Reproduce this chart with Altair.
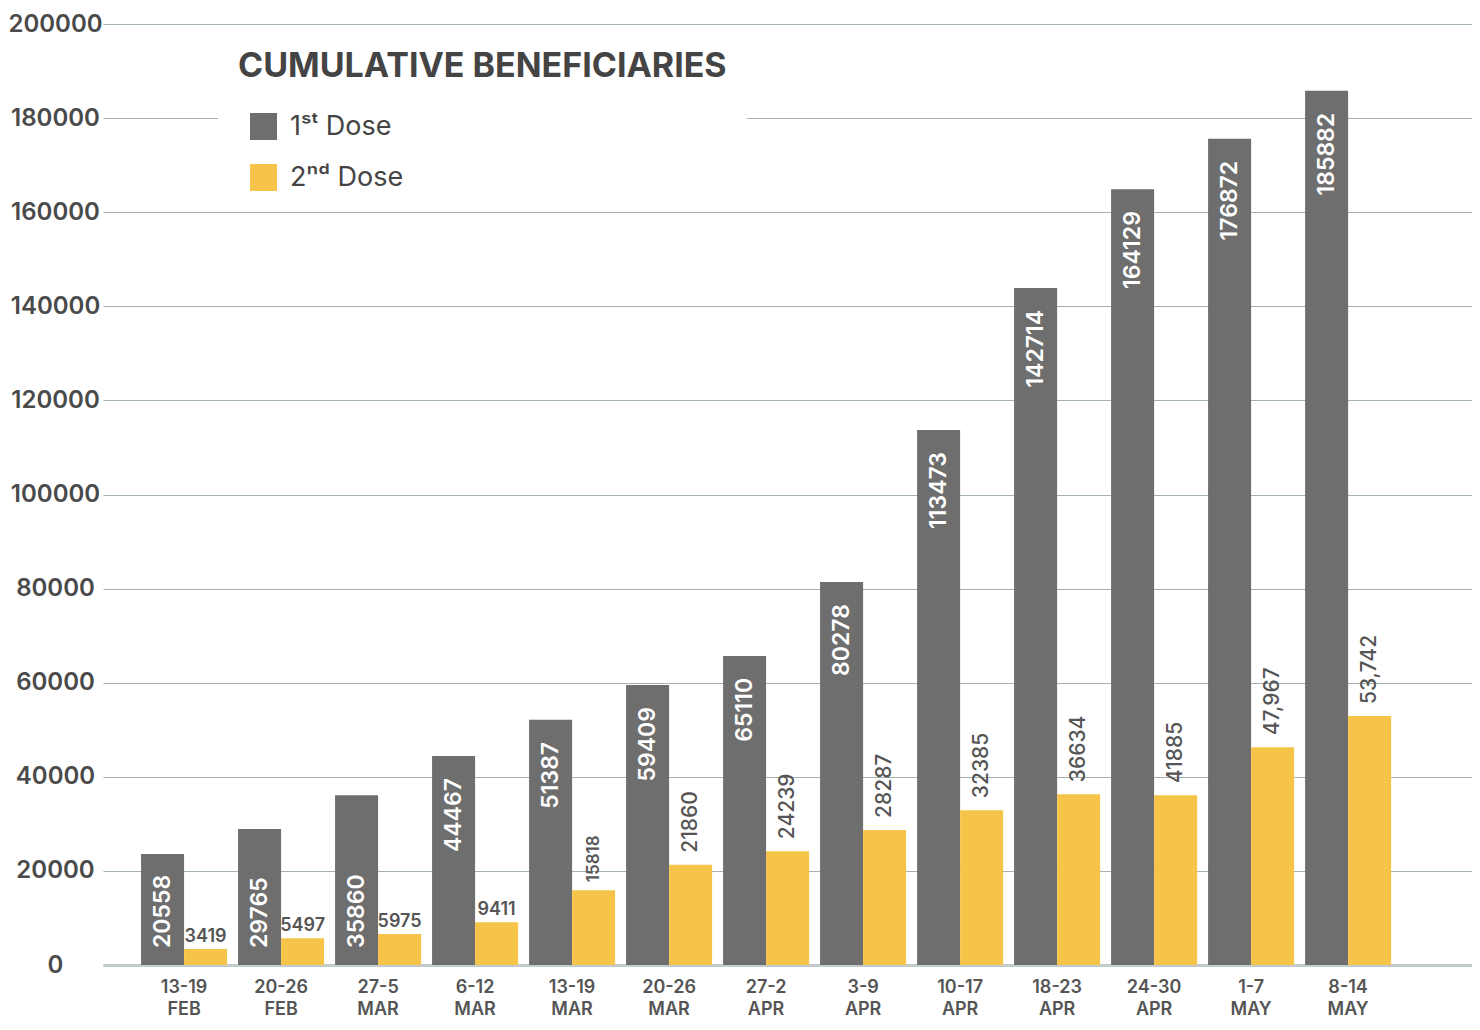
import altair as alt
import pandas as pd

weeks = ["13-19|FEB", "20-26|FEB", "27-5|MAR", "6-12|MAR", "13-19|MAR", "20-26|MAR",
         "27-2|APR", "3-9|APR", "10-17|APR", "18-23|APR", "24-30|APR", "1-7|MAY", "8-14|MAY"]

# bar heights as drawn
dose1_bar = [23600, 28900, 36100, 44400, 52100, 59500, 65700, 81400, 113700, 143900, 164900, 175600, 185800]
dose2_bar = [3400, 5700, 6600, 9100, 15900, 21300, 24200, 28700, 32900, 36300, 36100, 46300, 52900]

# printed value labels
dose1_label = ["20558", "29765", "35860", "44467", "51387", "59409", "65110", "80278",
               "113473", "142714", "164129", "176872", "185882"]
dose2_label = ["3419", "5497", "5975", "9411", "15818", "21860", "24239", "28287",
               "32385", "36634", "41885", "47,967", "53,742"]

dose_names = ["1ˢᵗ Dose", "2ⁿᵈ Dose"]
dose_colors = ["#6e6e6e", "#f6c449"]
y_ticks = list(range(0, 200001, 20000))

rows = []
for i, w in enumerate(weeks):
    rows.append(dict(week=w, dose=dose_names[0], value=dose1_bar[i], label=dose1_label[i],
                     idx=i, base=0))
    rows.append(dict(week=w, dose=dose_names[1], value=dose2_bar[i], label=dose2_label[i],
                     idx=i, base=0))
df = pd.DataFrame(rows)

FONT = "Inter"

x_enc = alt.X("week:N", sort=weeks,
              scale=alt.Scale(paddingInner=0.113, paddingOuter=0.613, align=0.32),
              axis=alt.Axis(title=None, labelExpr="split(datum.label, '|')", labelFont=FONT,
                            labelFontSize=18, labelFontWeight=600, labelColor="#555555",
                            labelLineHeight=22, labelPadding=13, ticks=False, domain=True,
                            domainColor="#c3cccc", domainWidth=3, labelAngle=0, grid=False))
xo_enc = alt.XOffset("dose:N", sort=dose_names,
                     scale=alt.Scale(domain=dose_names, paddingInner=0, paddingOuter=0))
y_scale = alt.Scale(domain=[0, 200000], nice=False)
y_axis = alt.Axis(values=y_ticks, title=None, format="d", labelFont=FONT,
                  labelFontSize=24, labelFontWeight=600, labelColor="#4a4a4a",
                  labelAlign="center", labelPadding=48, labelBaseline="middle",
                  ticks=False, domain=False, gridColor="#a3b1b1", gridWidth=1)
y_enc = alt.Y("value:Q", scale=y_scale, axis=y_axis)

base = alt.Chart(df)

bars = base.mark_bar().encode(
    x=x_enc, xOffset=xo_enc, y=y_enc,
    color=alt.Color("dose:N", sort=dose_names,
                    scale=alt.Scale(domain=dose_names, range=dose_colors),
                    legend=alt.Legend(title="CUMULATIVE BENEFICIARIES", orient="none",
                                      legendX=115, legendY=6, titleFont=FONT, titleFontSize=34,
                                      titleFontWeight=700, titleColor="#444444", titlePadding=29,
                                      titleLimit=800,
                                      labelFont=FONT, labelFontSize=27, labelColor="#444444",
                                      symbolType="square", symbolSize=729, symbolStrokeWidth=0,
                                      rowPadding=23, symbolOffset=12, labelOffset=13,
                                      padding=20, fillColor="white")),
)

grey_top = base.transform_filter(
    (alt.datum.dose == dose_names[0]) & (alt.datum.value >= 40000)
).mark_text(angle=270, align="right", baseline="middle", dx=-22, font=FONT, fontSize=23,
            fontWeight=600, color="white").encode(
    x=x_enc, xOffset=xo_enc, y=y_enc, text="label:N")

grey_bottom = base.transform_filter(
    (alt.datum.dose == dose_names[0]) & (alt.datum.value < 40000)
).mark_text(angle=270, align="left", baseline="middle", dx=17, font=FONT, fontSize=23,
            fontWeight=600, color="white").encode(
    x=x_enc, xOffset=xo_enc, y=alt.Y("base:Q", scale=y_scale, axis=y_axis),
    text="label:N")

yellow_flat = base.transform_filter(
    (alt.datum.dose == dose_names[1]) & (alt.datum.idx < 4)
).mark_text(align="center", baseline="bottom", dy=-3, font=FONT, fontSize=18,
            fontWeight=600, color="#555555").encode(
    x=x_enc, xOffset=xo_enc, y=y_enc, text="label:N")

yellow_small = base.transform_filter(
    (alt.datum.dose == dose_names[1]) & (alt.datum.idx == 4)
).mark_text(angle=270, align="left", baseline="middle", dx=8, font=FONT, fontSize=17,
            fontWeight=600, color="#555555").encode(
    x=x_enc, xOffset=xo_enc, y=y_enc, text="label:N")

yellow_rot = base.transform_filter(
    (alt.datum.dose == dose_names[1]) & (alt.datum.idx > 4)
).mark_text(angle=270, align="left", baseline="middle", dx=12, font=FONT, fontSize=21,
            fontWeight=500, color="#555555").encode(
    x=x_enc, xOffset=xo_enc, y=y_enc, text="label:N")

chart = alt.layer(bars, grey_top, grey_bottom, yellow_flat, yellow_small, yellow_rot).properties(
    width=1369, height=941,
    padding={"left": 95, "top": 16, "right": 0, "bottom": 57},
    autosize=alt.AutoSizeParams(type="none"),
    background="white",
).configure_view(stroke=None)

chart.save("out.html", embed_options={"renderer": "svg", "actions": False})
